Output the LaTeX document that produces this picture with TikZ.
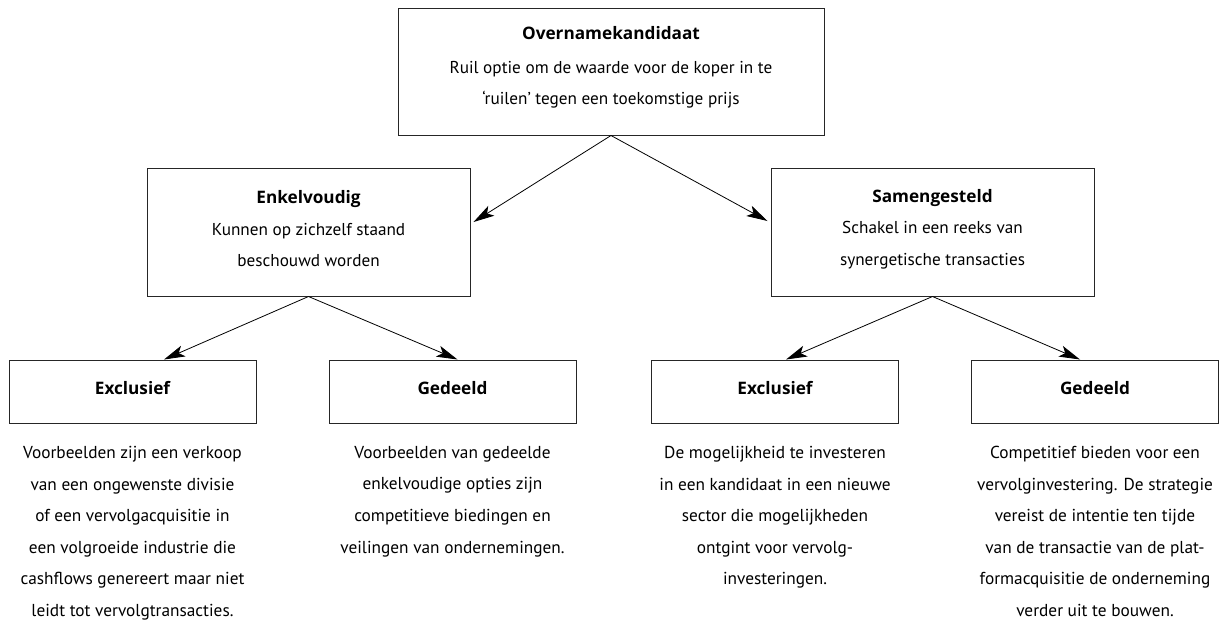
\documentclass[tikz,border=0pt]{standalone}
\usepackage{fontspec}
\setmainfont{PT Sans}
\newfontfamily\titlefont{Open Sans}
\newcommand{\ttl}[1]{{\titlefont\bfseries #1}}
\usetikzlibrary{arrows.meta,calc}
\tikzset{
  box/.style={draw=black!85, line width=1pt, rectangle, inner sep=0pt, align=center,
    font=\fontsize{17.2}{31.5}\selectfont},
  bigbox/.style={box, minimum width=#1, minimum height=127pt},
  boxtext/.style={inner sep=0pt, align=center, font=\fontsize{17.2}{31.5}\selectfont},
  smallbox/.style={box, minimum width=247pt, minimum height=63pt, text depth=8pt},
  desc/.style={anchor=north, inner sep=0pt, align=center, font=\fontsize{17.3}{31.6}\selectfont},
  arr/.style={draw=black, line width=0.8pt, -{Stealth[length=21pt,width=11.5pt,inset=5pt]}}
}
\begin{document}
\begin{tikzpicture}[x=1pt,y=-1pt]
\useasboundingbox (0,0) rectangle (1228,619);
\node[bigbox=426pt] (top) at (611,71.5) {};
\node[boxtext] (topt) at ($(top.center)+(0,-4)$) {\ttl{Overnamekandidaat}\\[2pt]Ruil optie om de waarde voor de koper in te\\‘ruilen’ tegen een toekomstige prijs};
\node[bigbox=323pt, minimum height=128pt] (enk) at (308.5,232) {};
\node[boxtext] (enkt) at ($(enk.center)+(0,-3)$) {\ttl{Enkelvoudig}\\Kunnen op zichzelf staand\\beschouwd worden};
\node[bigbox=323pt, minimum height=128pt] (sam) at (932.5,232) {};
\node[boxtext] (samt) at ($(sam.center)+(0,-3)$) {\ttl{Samengesteld}\\Schakel in een reeks van\\synergetische transacties};
\node[smallbox] (ex1) at (132.5,391.5) {\ttl{Exclusief}};
\node[smallbox] (ge1) at (452.5,391.5) {\ttl{Gedeeld}};
\node[smallbox] (ex2) at (775,391.5) {\ttl{Exclusief}};
\node[smallbox] (ge2) at (1095,391.5) {\ttl{Gedeeld}};
\node[desc] (d1) at (132.5,446) {Voorbeelden zijn een verkoop\\van een ongewenste divisie\\of een vervolgacquisitie in\\een volgroeide industrie die\\cashflows genereert maar niet\\leidt tot vervolgtransacties.};
\node[desc] (d2) at (452.5,446) {Voorbeelden van gedeelde\\enkelvoudige opties zijn\\competitieve biedingen en\\veilingen van ondernemingen.};
\node[desc] (d3) at (775,446) {De mogelijkheid te investeren\\in een kandidaat in een nieuwe\\sector die mogelijkheden\\ontgint voor vervolg-\\investeringen.};
\node[desc] (d4) at (1095,446) {Competitief bieden voor een\\vervolginvestering. De strategie\\vereist de intentie ten tijde\\van de transactie van de plat-\\formacquisitie de onderneming\\verder uit te bouwen.};
\draw[arr] (top.south) -- ($(enk.east)+(3,-10)$);
\draw[arr] (top.south) -- ($(sam.west)+(-3,-11)$);
\draw[arr] (enk.south) -- ($(ex1.north)+(31.5,0)$);
\draw[arr] (enk.south) -- ($(ge1.north)+(5,0)$);
\draw[arr] (sam.south) -- ($(ex2.north)+(11,0)$);
\draw[arr] (sam.south) -- ($(ge2.north)+(-15,0)$);
\end{tikzpicture}
\end{document}
